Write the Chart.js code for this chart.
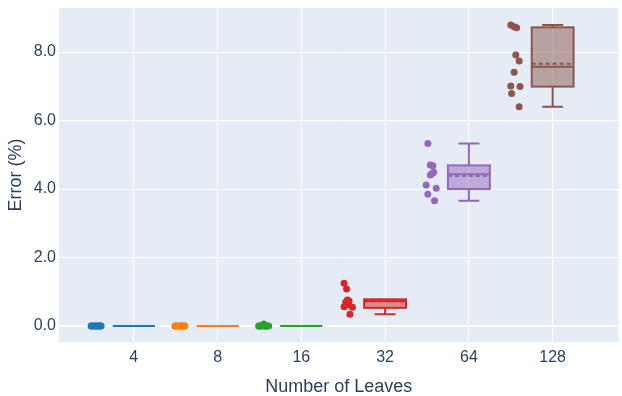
<!DOCTYPE html>
<html><head><meta charset="utf-8">
<script src="https://cdn.jsdelivr.net/npm/chart.js@4.4.1/dist/chart.umd.min.js"></script>
<style>html,body{margin:0;padding:0;background:#fff}#wrap{width:622px;height:396px;position:relative}</style>
</head><body><div id="wrap"><canvas id="c"></canvas></div>
<script>
// ---- data ----
const categories = ['4', '8', '16', '32', '64', '128'];
const colors = ['#1f77b4', '#ff7f0e', '#2ca02c', '#d62728', '#9467bd', '#8c564b'];
const tickValuesY = [0, 2, 4, 6, 8];

const values4   = [0, 0, 0, 0, 0, 0, 0, 0, 0, 0];
const values8   = [0, 0, 0, 0, 0, 0, 0, 0, 0, 0];
const values16  = [0, 0, 0, 0.06, 0, 0, 0, 0, 0, 0];
const values32  = [1.25, 1.08, 0.76, 0.73, 0.70, 0.66, 0.62, 0.56, 0.55, 0.34];
const values64  = [5.33, 4.70, 4.68, 4.49, 4.45, 4.41, 4.12, 4.02, 3.85, 3.66];
const values128 = [8.79, 8.74, 8.71, 7.91, 7.74, 7.41, 7.01, 6.99, 6.79, 6.40];

// horizontal jitter of the points (category units, relative to the category)
const jitter4   = [-0.50, -0.42, -0.47, -0.40, -0.45, -0.49, -0.41, -0.44, -0.51, -0.39];
const jitter8   = [-0.49, -0.43, -0.46, -0.40, -0.45, -0.50, -0.42, -0.44, -0.51, -0.39];
const jitter16  = [-0.50, -0.42, -0.47, -0.45, -0.43, -0.49, -0.41, -0.44, -0.51, -0.39];
const jitter32  = [-0.49, -0.46, -0.45, -0.43, -0.47, -0.44, -0.45, -0.49, -0.39, -0.42];
const jitter64  = [-0.49, -0.46, -0.43, -0.42, -0.44, -0.46, -0.51, -0.39, -0.49, -0.41];
const jitter128 = [-0.50, -0.46, -0.43, -0.44, -0.40, -0.46, -0.50, -0.39, -0.49, -0.40];

// box statistics
const q1          = [0, 0, 0, 0.53, 4.00, 6.99];
const medians     = [0, 0, 0, 0.72, 4.43, 7.57];
const q3          = [0, 0, 0, 0.78, 4.69, 8.72];
const whiskerLow  = [0, 0, 0, 0.34, 3.66, 6.40];
const whiskerHigh = [0, 0, 0, 0.78, 5.33, 8.79];
const means       = [0, 0, 0, 0.74, 4.38, 7.66];

const allValues = [values4, values8, values16, values32, values64, values128];
const allJitter = [jitter4, jitter8, jitter16, jitter32, jitter64, jitter128];

// ---- chart ----
const TEXT = '#2a3f5f';
const FONT = "'Liberation Sans', Arial, sans-serif";
const BOX_HALF = 0.25, CAP_HALF = 0.125;

function alpha(hex, a) {
  const n = parseInt(hex.slice(1), 16);
  return `rgba(${(n >> 16) & 255},${(n >> 8) & 255},${n & 255},${a})`;
}

const bgPlugin = {
  id: 'bg',
  beforeDraw(chart) {
    const { ctx, chartArea: a } = chart;
    ctx.save();
    ctx.fillStyle = '#E5ECF6';
    ctx.fillRect(a.left, a.top, a.right - a.left, a.bottom - a.top);
    ctx.restore();
  }
};

const boxPlugin = {
  id: 'boxes',
  afterDatasetsDraw(chart) {
    const { ctx } = chart;
    const xs = chart.scales.x, ys = chart.scales.y;
    ctx.save();
    categories.forEach((c, i) => {
      const col = colors[i];
      const xl = xs.getPixelForValue(i - BOX_HALF), xr = xs.getPixelForValue(i + BOX_HALF);
      const xc = xs.getPixelForValue(i);
      const cl = xs.getPixelForValue(i - CAP_HALF), cr = xs.getPixelForValue(i + CAP_HALF);
      const yq1 = ys.getPixelForValue(q1[i]), yq3 = ys.getPixelForValue(q3[i]);
      const ym = ys.getPixelForValue(medians[i]), ymean = ys.getPixelForValue(means[i]);
      const ylo = ys.getPixelForValue(whiskerLow[i]), yhi = ys.getPixelForValue(whiskerHigh[i]);
      ctx.lineWidth = 2;
      ctx.strokeStyle = col;
      ctx.setLineDash([]);
      ctx.fillStyle = alpha(col, 0.5);
      ctx.fillRect(xl, yq3, xr - xl, yq1 - yq3);
      ctx.strokeRect(xl, yq3, xr - xl, yq1 - yq3);
      ctx.beginPath();
      ctx.moveTo(xl, ym); ctx.lineTo(xr, ym);
      if (whiskerHigh[i] > q3[i]) {
        ctx.moveTo(xc, yq3); ctx.lineTo(xc, yhi);
        ctx.moveTo(cl, yhi); ctx.lineTo(cr, yhi);
      }
      if (whiskerLow[i] < q1[i]) {
        ctx.moveTo(xc, yq1); ctx.lineTo(xc, ylo);
        ctx.moveTo(cl, ylo); ctx.lineTo(cr, ylo);
      }
      ctx.stroke();
      if (q3[i] > q1[i]) {
        ctx.beginPath();
        ctx.setLineDash([4, 3]);
        ctx.moveTo(xl, ymean); ctx.lineTo(xr, ymean);
        ctx.stroke();
        ctx.setLineDash([]);
      }
    });
    ctx.restore();
  }
};

const datasets = categories.map((c, i) => ({
  label: c,
  data: allValues[i].map((v, k) => ({ x: i + allJitter[i][k], y: v })),
  backgroundColor: colors[i],
  borderColor: colors[i],
  borderWidth: 0,
  pointRadius: 3.5,
  pointHoverRadius: 3.5,
  showLine: false
}));

new Chart(document.getElementById('c'), {
  type: 'scatter',
  data: { datasets },
  plugins: [bgPlugin, boxPlugin],
  options: {
    responsive: true,
    maintainAspectRatio: false,
    animation: false,
    layout: { padding: { left: 0, right: 2, top: 8, bottom: 0 } },
    plugins: { legend: { display: false }, tooltip: { enabled: false } },
    scales: {
      x: {
        type: 'linear',
        min: -0.893, max: 5.786,
        afterBuildTicks(s) { s.ticks = categories.map((c, i) => ({ value: i })); },
        afterFit(s) { s.height = 54; s.paddingLeft = 0; s.paddingRight = 0; },
        ticks: {
          callback: (v) => categories[v],
          color: TEXT, font: { family: FONT, size: 16 }, padding: 6, maxRotation: 0
        },
        grid: { color: '#ffffff', lineWidth: 1, drawTicks: false },
        border: { display: false },
        title: {
          display: true, text: 'Number of Leaves', color: TEXT,
          font: { family: FONT, size: 18, lineHeight: 1 }, padding: { top: 0, bottom: 0 }
        }
      },
      y: {
        min: -0.467, max: 9.285,
        afterBuildTicks(s) { s.ticks = tickValuesY.map(v => ({ value: v })); },
        afterFit(s) { s.width = 59; s.paddingTop = 0; s.paddingBottom = 0; },
        ticks: {
          callback: (v) => v.toFixed(1),
          color: TEXT, font: { family: FONT, size: 16 }, padding: 3
        },
        grid: {
          color: '#ffffff',
          lineWidth: (ctx) => (ctx.tick && ctx.tick.value === 0 ? 2 : 1),
          drawTicks: false
        },
        border: { display: false },
        title: {
          display: true, text: 'Error (%)', color: TEXT,
          font: { family: FONT, size: 18, lineHeight: 1.2 }, padding: { top: 5, bottom: 0 }
        }
      }
    }
  }
});
</script>
</body></html>
